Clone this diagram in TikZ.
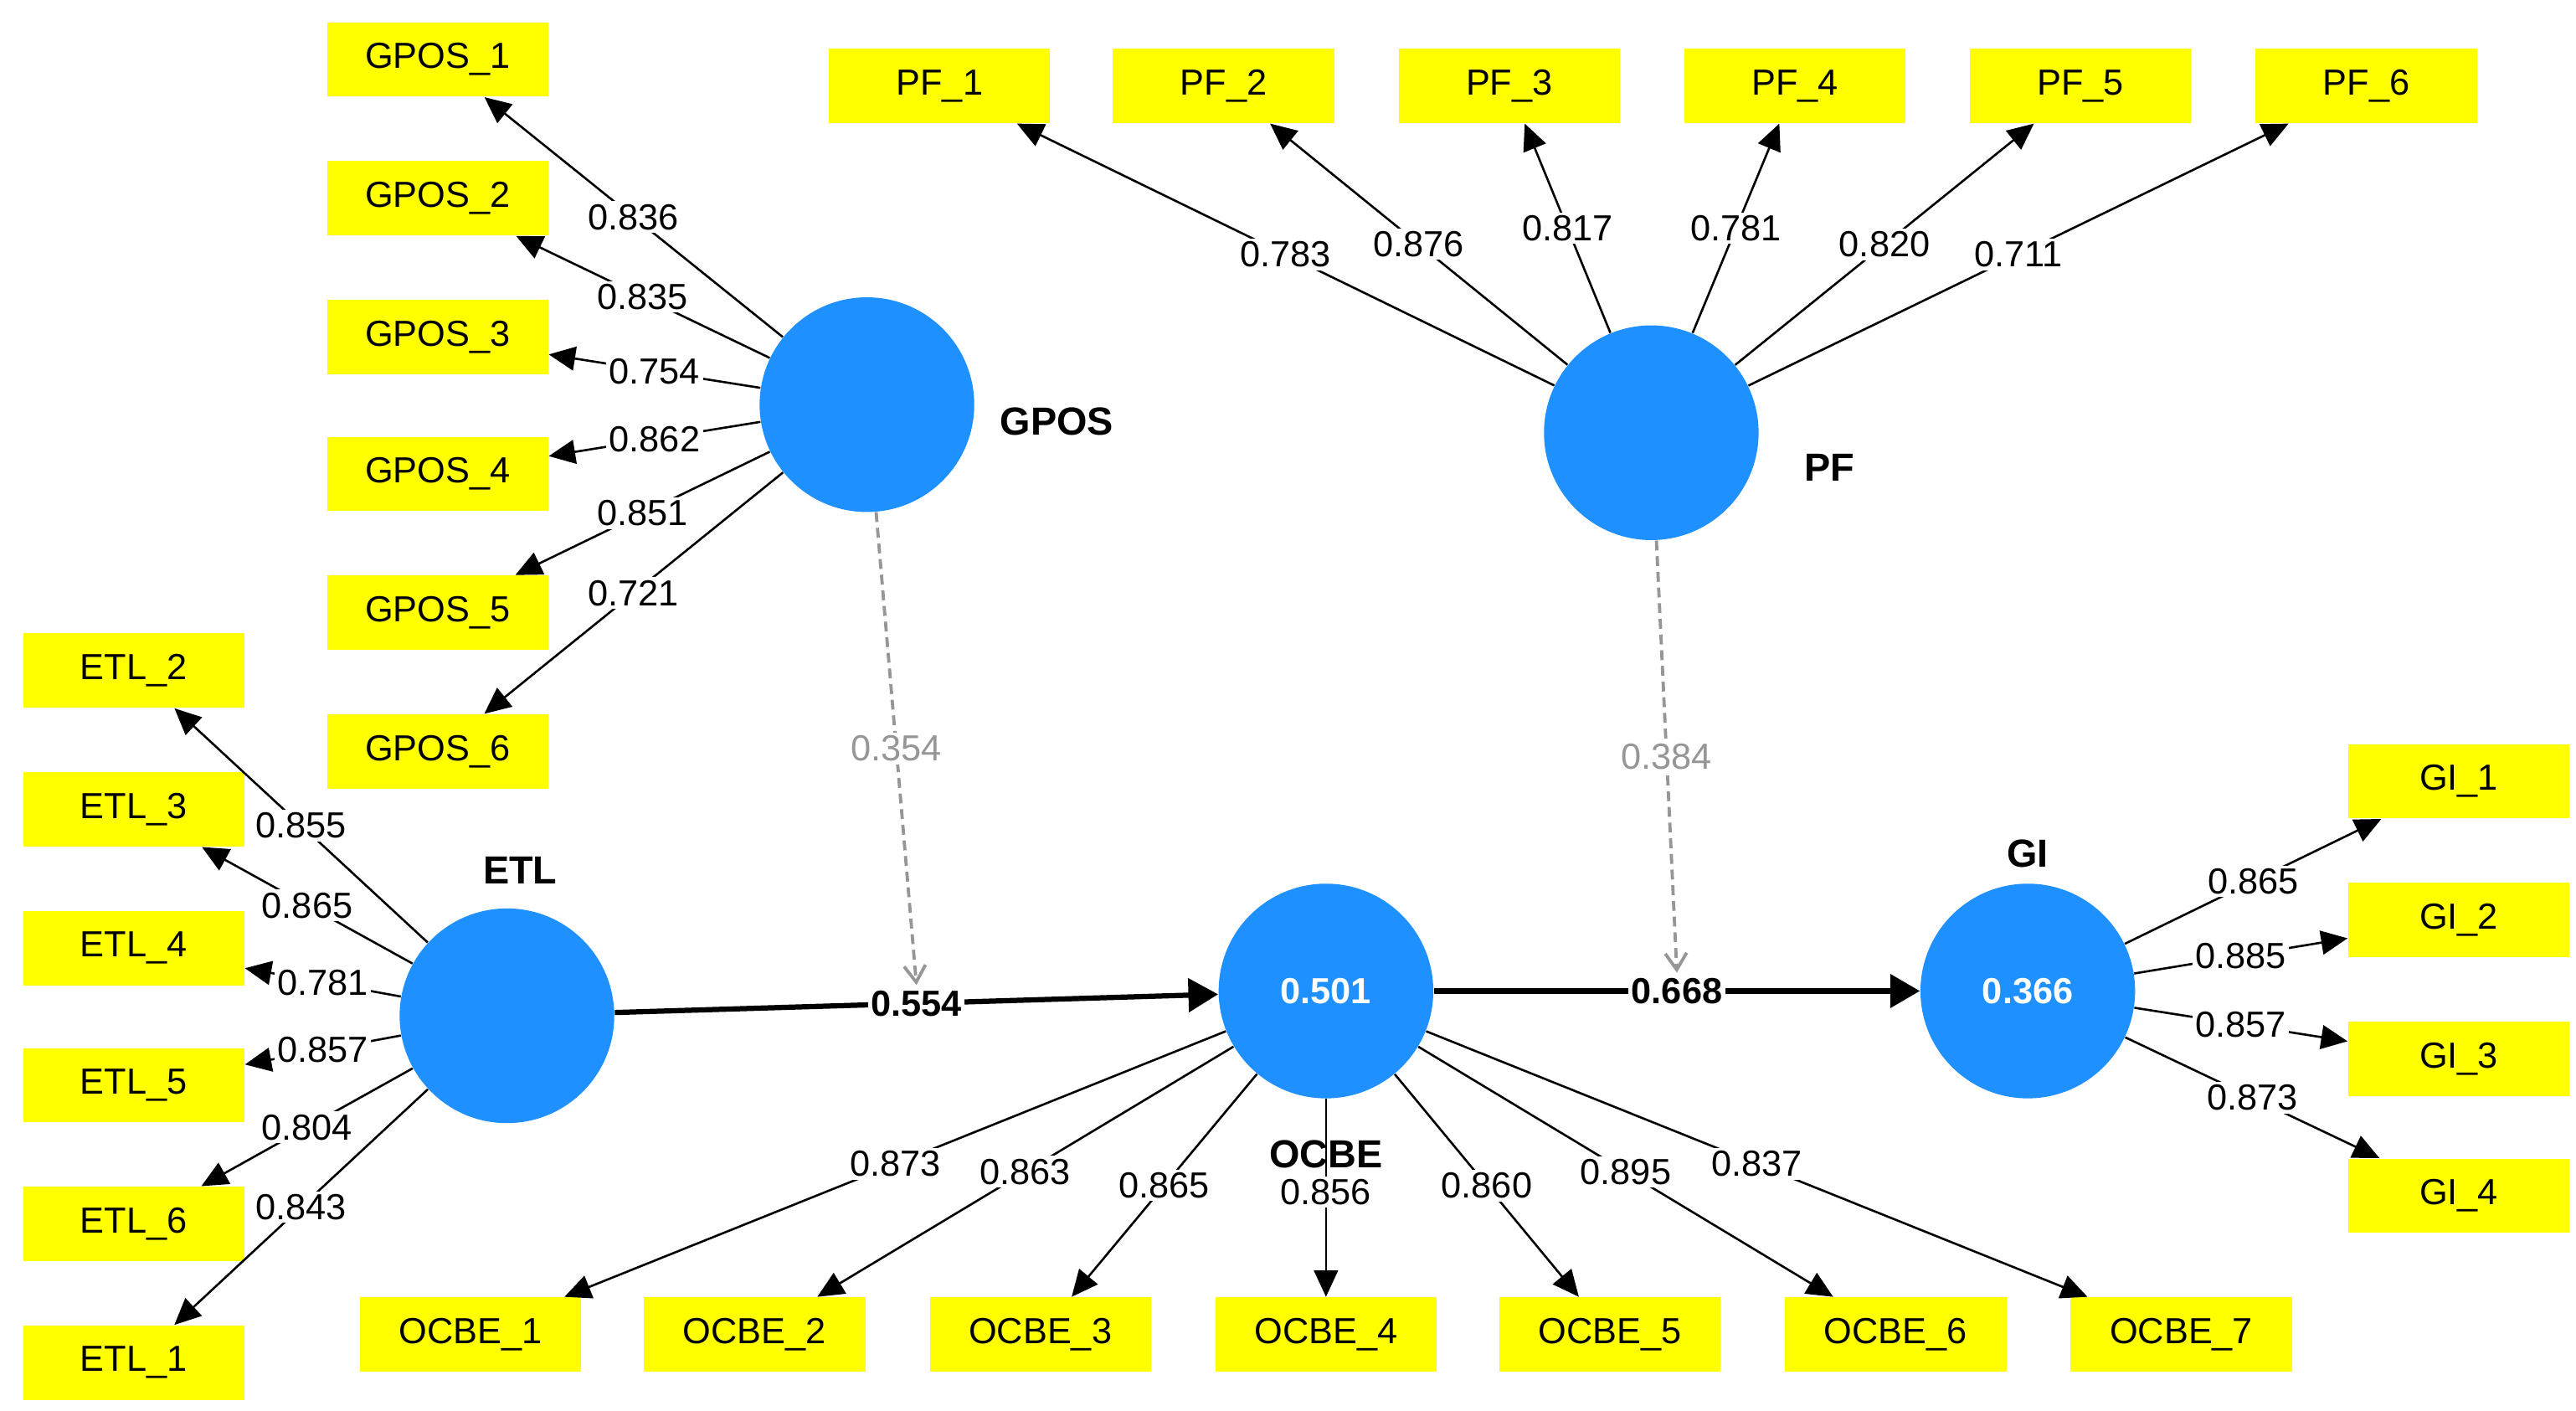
\documentclass[tikz,border=0pt]{standalone}
\usepackage{fontspec}
\setmainfont{Liberation Sans}
\usetikzlibrary{arrows.meta}
\usepackage{xcolor}
\definecolor{lvblue}{RGB}{30,144,255}
\definecolor{mvyellow}{RGB}{255,255,0}
\definecolor{modgray}{RGB}{150,150,150}

\begin{document}
\begin{tikzpicture}[x=0.02cm,y=-0.02cm,font=\fontsize{12.5}{15}\selectfont,
	lv/.style={circle,fill=lvblue,minimum size=2.6cm,inner sep=0pt,text=white,font=\fontsize{12.5}{15}\selectfont\bfseries},
	lvname/.style={font=\fontsize{13.5}{16}\selectfont\bfseries},
	mv/.style={rectangle,fill=mvyellow,minimum width=2.68cm,minimum height=0.9cm,inner sep=0pt},
	load/.style={line width=0.75pt,-{Triangle[length=0.32cm,width=0.29cm]}},
	inner/.style={line width=1.8pt,-{Triangle[length=0.36cm,width=0.4cm]}},
	moder/.style={modgray,line width=1.1pt,dash pattern=on 0.12cm off 0.07cm,-{Straight Barb[length=0.2cm,width=0.26cm]}},
	wt/.style={fill=white,inner sep=1pt,midway}]
\useasboundingbox(0,0)rectangle(1560,854);

\node[lv](gpos)at(525,245){};
\node[lv](pf)at(1000,262){};
\node[lv](etl)at(307,615){};
\node[lv](ocbe)at(803,600){0.501};
\node[lv](gi)at(1228,600){0.366};
\node[lvname](gposname)at(640,255){GPOS};
\node[lvname](pfname)at(1108,283){PF};
\node[lvname](etlname)at(315,527){ETL};
\node[lvname](giname)at(1228,517){GI};
\node[lvname](ocbename)at(803,699){OCBE};

\path(265,36)node[mv](gpos1){GPOS\_1}(265,120)node[mv](gpos2){GPOS\_2}(265,204)node[mv](gpos3){GPOS\_3}
	(265,287)node[mv](gpos4){GPOS\_4}(265,371)node[mv](gpos5){GPOS\_5}(265,455)node[mv](gpos6){GPOS\_6};
\path(81,406)node[mv](etl2){ETL\_2}(81,490)node[mv](etl3){ETL\_3}(81,574)node[mv](etl4){ETL\_4}
	(81,657)node[mv](etl5){ETL\_5}(81,741)node[mv](etl6){ETL\_6}(81,825)node[mv](etl1){ETL\_1};
\path(569,52)node[mv](pf1){PF\_1}(741,52)node[mv](pf2){PF\_2}(914,52)node[mv](pf3){PF\_3}
	(1087,52)node[mv](pf4){PF\_4}(1260,52)node[mv](pf5){PF\_5}(1433,52)node[mv](pf6){PF\_6};
\path(285,808)node[mv](ocbe1){OCBE\_1}(457,808)node[mv](ocbe2){OCBE\_2}(630,808)node[mv](ocbe3){OCBE\_3}
	(803,808)node[mv](ocbe4){OCBE\_4}(975,808)node[mv](ocbe5){OCBE\_5}(1148,808)node[mv](ocbe6){OCBE\_6}
	(1321,808)node[mv](ocbe7){OCBE\_7};
\path(1489,473)node[mv](gi1){GI\_1}(1489,557)node[mv](gi2){GI\_2}(1489,641)node[mv](gi3){GI\_3}
	(1489,724)node[mv](gi4){GI\_4};

\draw[load](gpos)--node[wt]{0.836}(gpos1);
\draw[load](gpos)--node[wt]{0.835}(gpos2);
\draw[load](gpos)--node[wt]{0.754}(gpos3);
\draw[load](gpos)--node[wt]{0.862}(gpos4);
\draw[load](gpos)--node[wt]{0.851}(gpos5);
\draw[load](gpos)--node[wt]{0.721}(gpos6);
\draw[load](etl)--node[wt]{0.855}(etl2);
\draw[load](etl)--node[wt]{0.865}(etl3);
\draw[load](etl)--node[wt]{0.781}(etl4);
\draw[load](etl)--node[wt]{0.857}(etl5);
\draw[load](etl)--node[wt]{0.804}(etl6);
\draw[load](etl)--node[wt]{0.843}(etl1);
\draw[load](pf)--node[wt]{0.783}(pf1);
\draw[load](pf)--node[wt]{0.876}(pf2);
\draw[load](pf)--node[wt]{0.817}(pf3);
\draw[load](pf)--node[wt]{0.781}(pf4);
\draw[load](pf)--node[wt]{0.820}(pf5);
\draw[load](pf)--node[wt]{0.711}(pf6);
\draw[load](ocbe)--node[wt]{0.873}(ocbe1);
\draw[load](ocbe)--node[wt]{0.863}(ocbe2);
\draw[load](ocbe)--node[wt]{0.865}(ocbe3);
\draw[load](ocbe)--node[wt,pos=0.47]{0.856}(ocbe4);
\draw[load](ocbe)--node[wt]{0.860}(ocbe5);
\draw[load](ocbe)--node[wt]{0.895}(ocbe6);
\draw[load](ocbe)--node[wt]{0.837}(ocbe7);
\draw[load](gi)--node[wt]{0.865}(gi1);
\draw[load](gi)--node[wt]{0.885}(gi2);
\draw[load](gi)--node[wt]{0.857}(gi3);
\draw[load](gi)--node[wt]{0.873}(gi4);

\draw[inner](etl)--node[wt,font=\fontsize{12.5}{15}\selectfont\bfseries](w554){0.554}(ocbe);
\draw[inner](ocbe)--node[wt,font=\fontsize{12.5}{15}\selectfont\bfseries](w668){0.668}(gi);
\draw[moder](gpos)--node[wt]{0.354}(w554.north);
\draw[moder](pf)--node[wt]{0.384}(w668.north);
\end{tikzpicture}
\end{document}
